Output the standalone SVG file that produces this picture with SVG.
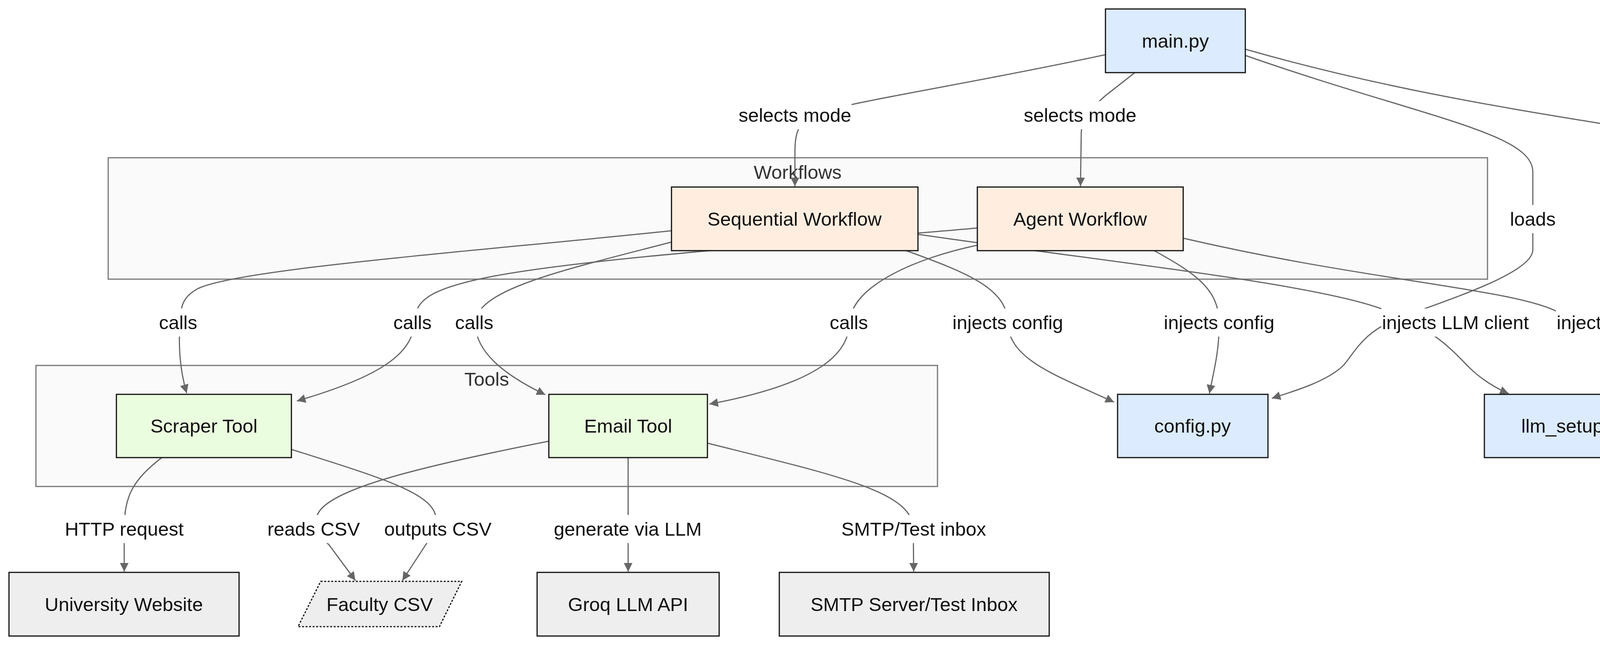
<svg xmlns="http://www.w3.org/2000/svg" width="4628" height="1652" viewBox="0 0 4628 1652">
<style>
text{font-family:"Liberation Sans",Arial,sans-serif;font-size:49px;text-anchor:middle;dominant-baseline:central;fill:#111}
.cluster rect{fill:#fafafa;stroke:#777;stroke-width:3}
.cluster text{fill:#333}
.edge{fill:none;stroke:#666;stroke-width:3;marker-end:url(#arr)}
.lbl rect{fill:#fff}
.node rect,.node polygon{stroke:#111;stroke-width:3}
.core{fill:#dcebfd}
.wf{fill:#ffeee0}
.tool{fill:#ebfddf}
.ext{fill:#eeeeee}
.data{fill:#eeeeee;stroke-dasharray:5 4}
</style>
<defs>
<marker id="arr" viewBox="0 0 10 10" refX="10" refY="5" markerWidth="24" markerHeight="22" markerUnits="userSpaceOnUse" orient="auto">
<path d="M0,0 L10,5 L0,10 z" fill="#666"/>
</marker>
</defs>
<rect width="4628" height="1652" fill="#fff"/>
<g id="clusters">
<g id="cluster-workflows" class="cluster"><rect x="277" y="404" width="3531" height="311"/><text x="2042" y="441">Workflows</text></g>
<g id="cluster-tools" class="cluster"><rect x="92" y="936" width="2308" height="310"/><text x="1246" y="971">Tools</text></g>
</g>
<g id="edges">
<path class="edge" d="M2830,140 C2450,222 2120,268 2070,300 C2040,322 2035,350 2035,390 L2035,477"/>
<path class="edge" d="M2904,187 L2830,245 C2790,280 2770,300 2768,340 L2766,477"/>
<path class="edge" d="M3188,142 C3640,300 3924,340 3924,440 L3924,640 C3924,700 3700,770 3580,815 C3490,850 3470,900 3440,935 C3400,975 3320,1000 3256,1020"/>
<path class="edge" d="M3188,126 C3900,330 4497,330 4497,440 L4497,860 C4497,930 4340,960 4277,1012"/>
<path class="edge" d="M1719,591 C1200,645 600,690 505,740 C475,757 462,775 460,826 C458,880 458,940 478,1007"/>
<path class="edge" d="M1719,620 C1450,690 1220,740 1217,826 C1215,900 1290,960 1396,1011"/>
<path class="edge" d="M2502,584 C2100,620 1500,660 1250,710 C1100,740 1064,770 1062,820 C1058,900 990,960 760,1027"/>
<path class="edge" d="M2502,628 C2350,660 2180,730 2175,826 C2172,900 2110,980 1816,1035"/>
<path class="edge" d="M2320,642 C2480,700 2578,740 2580,826 C2582,920 2700,960 2852,1030"/>
<path class="edge" d="M2953,641 C3060,700 3120,740 3121,826 C3122,900 3105,960 3096,1008"/>
<path class="edge" d="M2349,600 C2900,680 3400,730 3560,800 C3680,850 3720,900 3760,940 C3790,970 3830,995 3862,1008"/>
<path class="edge" d="M3029,610 C3500,720 3880,740 3990,800 C4110,860 4165,870 4165,910 C4165,950 4120,985 4112,1008"/>
<path class="edge" d="M414,1172 C340,1230 318,1270 318,1355 L318,1464"/>
<path class="edge" d="M746,1151 C980,1225 1116,1265 1116,1330 C1116,1370 1100,1380 1090,1395 L1030,1487"/>
<path class="edge" d="M1405,1130 C1050,1200 812,1260 810,1330 C808,1370 830,1385 842,1395 L910,1487"/>
<path class="edge" d="M1608,1172 L1608,1464"/>
<path class="edge" d="M1811,1135 C2150,1220 2338,1260 2338,1355 L2339,1464"/>
</g>
<g id="edge-labels">
<g class="lbl"><rect x="1890" y="259" width="290" height="72"/><text x="2035" y="295">selects mode</text></g>
<g class="lbl"><rect x="2620" y="259" width="290" height="72"/><text x="2765" y="295">selects mode</text></g>
<g class="lbl"><rect x="3864" y="525" width="120" height="72"/><text x="3924" y="561">loads</text></g>
<g class="lbl"><rect x="4396" y="525" width="202" height="72"/><text x="4497" y="561">initializes</text></g>
<g class="lbl"><rect x="406" y="790" width="100" height="72"/><text x="456" y="826">calls</text></g>
<g class="lbl"><rect x="1006" y="790" width="100" height="72"/><text x="1056" y="826">calls</text></g>
<g class="lbl"><rect x="1164" y="790" width="100" height="72"/><text x="1214" y="826">calls</text></g>
<g class="lbl"><rect x="2123" y="790" width="100" height="72"/><text x="2173" y="826">calls</text></g>
<g class="lbl"><rect x="2437" y="790" width="286" height="72"/><text x="2580" y="826">injects config</text></g>
<g class="lbl"><rect x="2978" y="790" width="286" height="72"/><text x="3121" y="826">injects config</text></g>
<g class="lbl"><rect x="3536" y="790" width="380" height="72"/><text x="3726" y="826">injects LLM client</text></g>
<g class="lbl"><rect x="3983" y="790" width="380" height="72"/><text x="4173" y="826">injects LLM client</text></g>
<g class="lbl"><rect x="165" y="1319" width="306" height="72"/><text x="318" y="1355">HTTP request</text></g>
<g class="lbl"><rect x="684" y="1319" width="238" height="72"/><text x="803" y="1355">reads CSV</text></g>
<g class="lbl"><rect x="983" y="1319" width="276" height="72"/><text x="1121" y="1355">outputs CSV</text></g>
<g class="lbl"><rect x="1417" y="1319" width="380" height="72"/><text x="1607" y="1355">generate via LLM</text></g>
<g class="lbl"><rect x="2151" y="1319" width="376" height="72"/><text x="2339" y="1355">SMTP/Test inbox</text></g>
</g>
<g id="node-main" class="node"><rect class="core" x="2830" y="23" width="358" height="163"/><text x="3009" y="105">main.py</text></g>
<g id="node-sequential" class="node"><rect class="wf" x="1719" y="479" width="631" height="163"/><text x="2034" y="561">Sequential Workflow</text></g>
<g id="node-agent" class="node"><rect class="wf" x="2502" y="479" width="527" height="163"/><text x="2765" y="561">Agent Workflow</text></g>
<g id="node-scraper" class="node"><rect class="tool" x="298" y="1010" width="448" height="162"/><text x="522" y="1091">Scraper Tool</text></g>
<g id="node-email" class="node"><rect class="tool" x="1405" y="1010" width="406" height="162"/><text x="1608" y="1091">Email Tool</text></g>
<g id="node-config" class="node"><rect class="core" x="2861" y="1010" width="385" height="162"/><text x="3053" y="1091">config.py</text></g>
<g id="node-llm" class="node"><rect class="core" x="3800" y="1010" width="465" height="162"/><text x="4032" y="1091">llm_setup.py</text></g>
<g id="node-university" class="node"><rect class="ext" x="23" y="1466" width="589" height="163"/><text x="317" y="1548">University Website</text></g>
<g id="node-faculty" class="node"><polygon class="data" points="821,1489 1182,1489 1125,1605 763,1605"/><text x="972" y="1548">Faculty CSV</text></g>
<g id="node-groq" class="node"><rect class="ext" x="1375" y="1466" width="466" height="163"/><text x="1608" y="1548">Groq LLM API</text></g>
<g id="node-smtp" class="node"><rect class="ext" x="1995" y="1466" width="691" height="163"/><text x="2340" y="1548">SMTP Server/Test Inbox</text></g>
</svg>
